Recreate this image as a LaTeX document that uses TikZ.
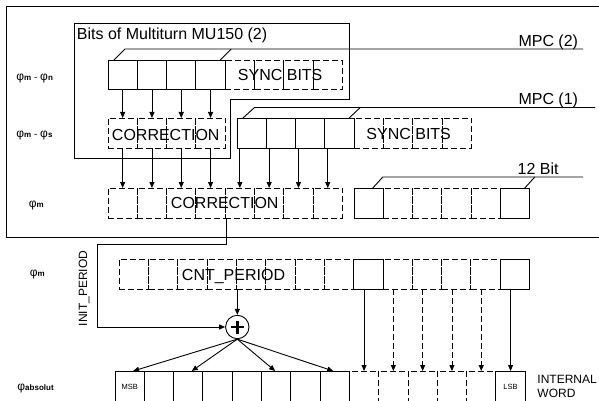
\documentclass[tikz,border=0pt]{standalone}
\usepackage{fontspec}
\setmainfont{Liberation Sans}
\usetikzlibrary{arrows.meta}
\newcommand\phsub[1]{{\fontsize{12}{14}\selectfont φ}{\fontsize{8}{9}\selectfont\bfseries #1}}
\begin{document}
\begin{tikzpicture}[x=1pt,y=-1pt,line width=0.9pt,
  cell/.style={draw, solid, inner sep=0pt, outer sep=0pt, minimum width=29.3pt, minimum height=#1, anchor=north west},
  cell/.default=29.5pt,
  dcell/.style={cell=#1, dash pattern=on 6pt off 3pt},
  dcell/.default=29.5pt,
  arr/.style={-{Triangle[length=6pt,width=5pt]}},
  darr/.style={arr, dash pattern=on 6pt off 3pt},
  lbl/.style={font=\fontsize{16}{19}\selectfont, inner sep=0pt},
  sm/.style={font=\fontsize{12}{14}\selectfont, inner sep=0pt},
  phl/.style={inner sep=0pt, anchor=west}]
\useasboundingbox (0,0) rectangle (599,401);
\def\cw{29.3}
% outer frame
\draw (599.5,6) -- (6,6) -- (6,237) -- (599.5,237);
% L-shaped box
\draw (74,23) -- (349,23) -- (349,99) -- (230,99) -- (230,158) -- (74,158) -- cycle;
\node[lbl, anchor=base west] (bits) at (76.5,39.5) {Bits of Multiturn MU150 (2)};

% row 1
\foreach \i in {4,...,7} \node[dcell] (r1c\i) at ({108+\i*\cw},60) {};
\foreach \i in {0,...,3} \node[cell] (r1c\i) at ({108+\i*\cw},60) {};
\node[lbl, anchor=base west] (sync1) at (237.5,81) {SYNC BITS};

% row 2
\foreach \i in {0,...,3} \node[dcell=30pt] (r2c\i) at ({108+\i*\cw},118) {};
\foreach \i in {0,...,3} \node[dcell=30pt] (r2d\i) at ({354.2+\i*\cw},118) {};
\foreach \i in {0,...,3} \node[cell=30pt] (r2s\i) at ({237+\i*\cw},118) {};
\node[lbl, anchor=base west] (corr2) at (111.5,140) {CORRECTION};
\node[lbl, anchor=base west] (sync2) at (366,139.5) {SYNC BITS};

% row 3
\foreach \i in {0,...,7} \node[dcell=30pt] (r3c\i) at ({108+\i*\cw},188) {};
\foreach \i/\j in {9/1,10/2,11/3,12/4} \node[dcell=30pt] (r3c\i) at ({354+\j*\cw},188) {};
\foreach \i/\j in {8/0,13/5} \node[cell=30pt] (r3c\i) at ({354+\j*\cw},188) {};
\node[lbl, anchor=base west] (corr3) at (170.5,208.5) {CORRECTION};

% row 4
\foreach \i in {0,...,7,9,10,11,12} \node[dcell=30pt] (r4c\i) at ({119.3+\i*\cw},259) {};
\foreach \i in {8,13} \node[cell=30pt] (r4c\i) at ({119.3+\i*\cw},259) {};
\node[lbl, anchor=base west] (cnt) at (181.5,280) {CNT\_PERIOD};

% row 5
\foreach \i in {8,...,12} \node[dcell=31pt] (r5c\i) at ({115+\i*\cw},371) {};
\foreach \i in {1,...,7} \node[cell=31pt] (r5c\i) at ({115+\i*\cw},371) {};
\node[cell=31pt, font=\fontsize{7.5}{9}\selectfont] (r5c0) at (115,371) {MSB};
\node[cell=31pt, font=\fontsize{7.5}{9}\selectfont] (r5c13) at ({115+13*\cw},371) {LSB};

% brackets
\draw ([xshift=6pt]r1c0.north west) -- ++(11,-11) -- (583,49);
\draw ([xshift=-5pt]r1c3.north east) -- ++(11,-11);
\node[lbl, anchor=base east] (mpc2) at (578.5,46.5) {MPC (2)};
\draw ([xshift=6pt]r2s0.north west) -- ++(11.5,-10.5) -- (595,107.5);
\draw ([xshift=-5pt]r2s3.north east) -- ++(11,-10.5);
\node[lbl, anchor=base east] (mpc1) at (578.5,105) {MPC (1)};
\draw ([xshift=-10.5pt]r3c8.north east) -- ++(10,-11) -- (583,177);
\draw ([xshift=-5pt]r3c13.north east) -- ++(10,-11);
\node[lbl, anchor=base east] (bit12) at (559,174) {12 Bit};

% arrows row1 -> row2 -> row3
\foreach \i in {0,...,3} \draw[arr] (r1c\i.south) -- (r2c\i.north);
\foreach \i in {0,...,3} \draw[arr] (r2c\i.south) -- (r3c\i.north);
\foreach \i in {4,...,7} \draw[arr] (r3c\i.north |- r2s0.south) -- (r3c\i.north);

% adder
\node[circle, draw, minimum size=23.4pt, inner sep=0pt] (plus) at (237.3,327) {};
\draw[line width=2.8pt] ([xshift=-6.5pt]plus.center) -- ([xshift=6.5pt]plus.center);
\draw[line width=2.8pt] ([yshift=-6.5pt]plus.center) -- ([yshift=6.5pt]plus.center);
\draw[arr] (plus.north |- r4c4.south) -- (plus.north);
\draw[arr] ([xshift=0.8pt]r3c4.south west) -- ++(0,26) -- (97.7,244) |- (plus.west);
\node[sm, rotate=90, anchor=base] (init) at (87,288.5) {INIT\_PERIOD};

\draw[arr] (plus.south) -- ([xshift=3.5pt]r5c0.north);
\draw[arr] (plus.south) -- ([xshift=3.5pt]r5c2.north);
\draw[arr] (plus.south) -- ([xshift=-1pt]r5c5.north);
\draw[arr] (plus.south) -- ([xshift=-1.5pt]r5c7.north);

% arrows row4 -> row5
\foreach \i in {8,13} \draw[arr] (r5c\i.north |- r4c8.south) -- (r5c\i.north);
\foreach \i in {9,...,12} \draw[darr] (r5c\i.north |- r4c8.south) -- (r5c\i.north);

% labels
\node[sm, anchor=base west] (iw1) at (537,383.5) {INTERNAL};
\node[sm, anchor=base west] (iw2) at (537,397) {WORD};
\node[phl] (l1) at (16,79) {\phsub{m} - \phsub{n}};
\node[phl] (l2) at (16,136) {\phsub{m} - \phsub{s}};
\node[phl] (l3) at (28.5,206) {\phsub{m}};
\node[phl] (l4) at (29.5,275) {\phsub{m}};
\node[phl] (l5) at (17,389) {\phsub{absolut}};
\end{tikzpicture}
\end{document}
